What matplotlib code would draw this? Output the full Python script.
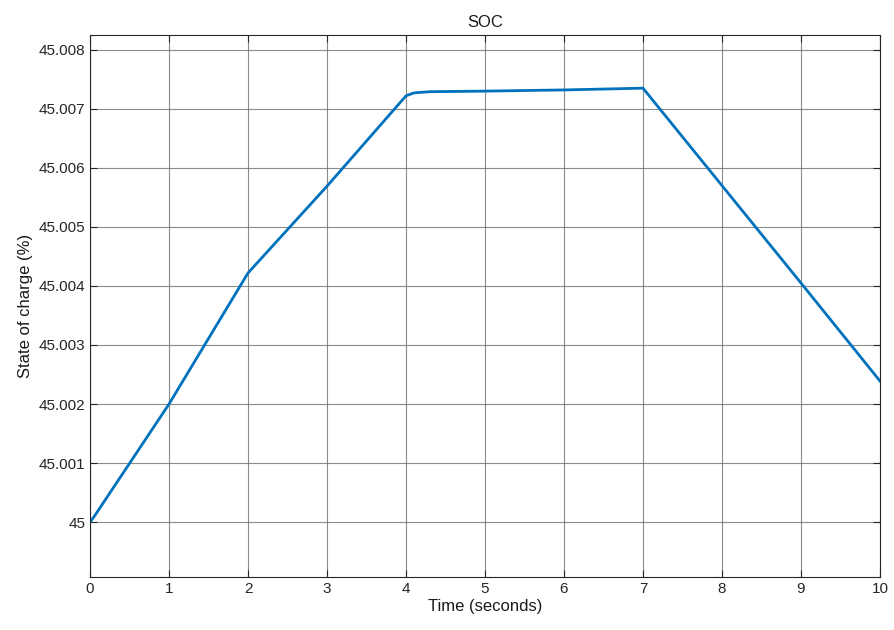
import numpy as np
import matplotlib.pyplot as plt

plt.rcParams['font.family'] = ['Liberation Sans', 'DejaVu Sans']

# 時間 (秒) と SOC (%) の読み取り値
time_s = [0, 0.05, 1.0, 2.0, 3.0, 4.0, 4.1, 4.3, 5.0, 6.0, 7.0, 8.0, 9.0, 10.0]
soc = [45.0, 45.00009, 45.002, 45.00422, 45.00569, 45.00722, 45.00727, 45.00729,
       45.00730, 45.00732, 45.00735, 45.0057, 45.00405, 45.00239]

xticks = list(range(0, 11))
yticks = [45.0, 45.001, 45.002, 45.003, 45.004, 45.005, 45.006, 45.007, 45.008]
ytick_labels = ['45', '45.001', '45.002', '45.003', '45.004', '45.005', '45.006', '45.007', '45.008']

fig = plt.figure(figsize=(8.94, 6.30), dpi=100)
ax = fig.add_axes([0.1007, 0.0841, 0.8836, 0.8603])

ax.plot(time_s, soc, color='#0072BD', linewidth=2.0)

ax.set_xlim(0, 10)
ax.set_ylim(44.99907, 45.00825)
ax.set_xticks(xticks)
ax.set_yticks(yticks)
ax.set_yticklabels(ytick_labels)

ax.grid(True, color='#6e6e6e', linewidth=0.8, alpha=0.8)
ax.tick_params(direction='in', top=True, right=True, labelsize=11,
               colors='#262626', length=5, width=0.8)
for s in ax.spines.values():
    s.set_color('#262626')
    s.set_linewidth(0.8)

ax.set_title('SOC', fontsize=12, color='#1a1a1a', pad=6)
ax.set_xlabel('Time (seconds)', fontsize=12, color='#1a1a1a', labelpad=2)
ax.set_ylabel('State of charge (%)', fontsize=12, color='#1a1a1a', labelpad=4)

fig.savefig('out.png', dpi=100)
